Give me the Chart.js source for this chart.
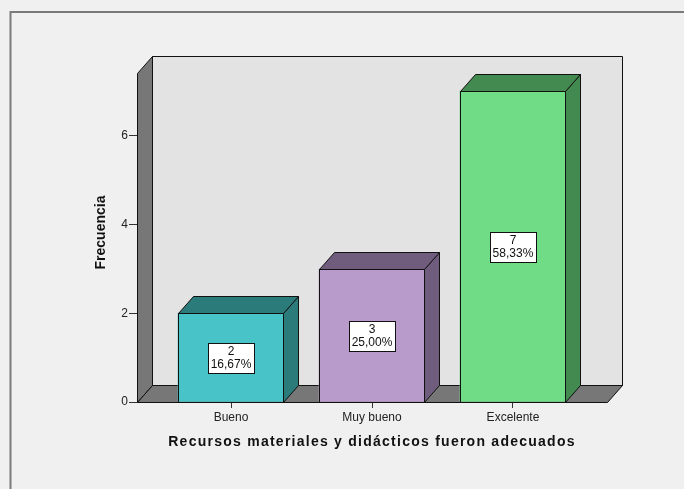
<!DOCTYPE html>
<html><head><meta charset="utf-8">
<script src="https://cdn.jsdelivr.net/npm/chart.js@4.4.0/dist/chart.umd.min.js"></script>
<style>html,body{margin:0;padding:0;background:#f0f0f0;overflow:hidden}</style>
</head><body>
<canvas id="c" width="684" height="489"></canvas>
<script>
const categories = ['Bueno', 'Muy bueno', 'Excelente'];
const frequencies = [2, 3, 7];
const percentLabels = ['16,67%', '25,00%', '58,33%'];
const yTicks = [0, 2, 4, 6];
const xTitle = 'Recursos materiales y didácticos fueron adecuados';
const yTitle = 'Frecuencia';

const frontColors = ['#48C4C8', '#B89BCB', '#70DD86'];
const sideColors = ['#2B7B7B', '#705C7D', '#438A50'];
const FONT = '"Liberation Sans", Arial, sans-serif';
const DX = 15, DY = 17;

function poly(ctx, pts, fill, stroke) {
  ctx.beginPath();
  ctx.moveTo(pts[0][0], pts[0][1]);
  for (let i = 1; i < pts.length; i++) ctx.lineTo(pts[i][0], pts[i][1]);
  ctx.closePath();
  if (fill) { ctx.fillStyle = fill; ctx.fill(); }
  if (stroke) { ctx.strokeStyle = stroke; ctx.lineWidth = 1; ctx.stroke(); }
}

function patchTitle(scale, spacing, dy) {
  if (!scale || scale._titlePatched) return;
  const orig = scale.drawTitle;
  scale.drawTitle = function (...args) {
    const c = this.ctx;
    c.save();
    c.letterSpacing = spacing;
    c.translate(0, dy);
    orig.apply(this, args);
    c.restore();
  };
  scale._titlePatched = true;
}

const threeD = {
  id: 'threeD',
  beforeDraw(chart) {
    patchTitle(chart.scales.x, '1.25px', 0);
    patchTitle(chart.scales.y, '0px', -5);
    const ctx = chart.ctx;
    ctx.save();
    ctx.fillStyle = '#f0f0f0';
    ctx.fillRect(0, 0, chart.width, chart.height);
    ctx.strokeStyle = '#7a7a7a';
    ctx.lineWidth = 2;
    ctx.beginPath();
    ctx.moveTo(chart.width, 12); ctx.lineTo(10.5, 12); ctx.lineTo(10.5, chart.height);
    ctx.stroke();
    ctx.restore();
  },
  beforeDatasetsDraw(chart) {
    const ctx = chart.ctx;
    const a = chart.chartArea;
    const l = Math.round(a.left) + 0.5, r = Math.round(a.right) + 0.5;
    const t = Math.round(a.top) + 0.5, b = Math.round(a.bottom) + 0.5;
    ctx.save();
    poly(ctx, [[l + DX, t - DY], [r + DX, t - DY], [r + DX, b - DY], [l + DX, b - DY]], '#e3e3e3', '#111');
    poly(ctx, [[l, t], [l + DX, t - DY], [l + DX, b - DY], [l, b]], '#777777', '#111');
    poly(ctx, [[l, b], [l + DX, b - DY], [r + DX, b - DY], [r, b]], '#777777', '#111');
    ctx.restore();
  },
  afterDatasetsDraw(chart) {
    const ctx = chart.ctx;
    const meta = chart.getDatasetMeta(0);
    ctx.save();
    meta.data.forEach((bar, i) => {
      const p = bar.getProps(['x', 'y', 'base', 'width'], true);
      const L = Math.round(p.x - p.width / 2) + 0.5, R = Math.round(p.x + p.width / 2) - 0.5;
      const T = Math.round(p.y) + 0.5, B = Math.round(p.base) + 0.5;
      poly(ctx, [[R, T], [R + DX, T - DY], [R + DX, B - DY], [R, B]], sideColors[i], '#111');
      poly(ctx, [[L, T], [L + DX, T - DY], [R + DX, T - DY], [R, T]], sideColors[i], '#111');
      poly(ctx, [[L, T], [R, T], [R, B], [L, B]], null, '#111');
      ctx.font = '12px ' + FONT;
      const l1 = String(frequencies[i]), l2 = percentLabels[i];
      const w = Math.max(ctx.measureText(l1).width, ctx.measureText(l2).width) + 5;
      const h = 30;
      const cx = p.x, cy = (T + B) / 2;
      const bx = Math.round(cx - w / 2) + 0.5, by = Math.round(cy - h / 2) + 0.5;
      ctx.fillStyle = '#ffffff';
      ctx.fillRect(bx, by, Math.round(w), h);
      ctx.strokeStyle = '#111';
      ctx.lineWidth = 1;
      ctx.strokeRect(bx, by, Math.round(w), h);
      ctx.fillStyle = '#111';
      ctx.textAlign = 'center';
      ctx.textBaseline = 'middle';
      ctx.fillText(l1, cx, cy - 6);
      ctx.fillText(l2, cx, cy + 7);
    });
    ctx.restore();
  }
};

new Chart(document.getElementById('c'), {
  type: 'bar',
  data: {
    datasets: [{
      data: frequencies.map((f, i) => ({ x: i, y: f })),
      backgroundColor: frontColors,
      borderColor: '#111',
      borderWidth: 0,
      barThickness: 106
    }]
  },
  plugins: [threeD],
  options: {
    responsive: false,
    animation: false,
    devicePixelRatio: 1,
    layout: { padding: { left: 90, right: 77, top: 73, bottom: 0 } },
    plugins: { legend: { display: false }, tooltip: { enabled: false } },
    scales: {
      x: {
        type: 'linear',
        offset: false,
        min: -0.667,
        max: 2.667,
        afterBuildTicks: (s) => { s.ticks = categories.map((c, i) => ({ value: i })); },
        afterFit: (s) => { s.height = 87; },
        ticks: {
          callback: (v) => categories[Math.round(v)],
          font: { family: FONT, size: 12 },
          color: '#222',
          padding: 2,
          maxRotation: 0,
          autoSkip: false
        },
        grid: { offset: false, drawOnChartArea: false, drawTicks: true, tickLength: 6, color: '#333' },
        border: { display: false },
        title: {
          display: true,
          text: xTitle,
          font: { family: FONT, size: 14, weight: 'bold' },
          color: '#111',
          padding: { top: 0, bottom: 38 }
        }
      },
      y: {
        type: 'linear',
        min: 0,
        max: 7.41,
        afterBuildTicks: (s) => { s.ticks = yTicks.map(v => ({ value: v })); },
        afterFit: (s) => { s.width = 47; },
        ticks: {
          font: { family: FONT, size: 12 },
          color: '#222',
          padding: 1
        },
        grid: { drawOnChartArea: false, drawTicks: true, tickLength: 8, color: '#333' },
        border: { display: false },
        title: {
          display: true,
          text: yTitle,
          font: { family: FONT, size: 14, weight: 'bold' },
          color: '#111',
          padding: { top: 3, bottom: 3 }
        }
      }
    }
  }
});
</script>
</body></html>
